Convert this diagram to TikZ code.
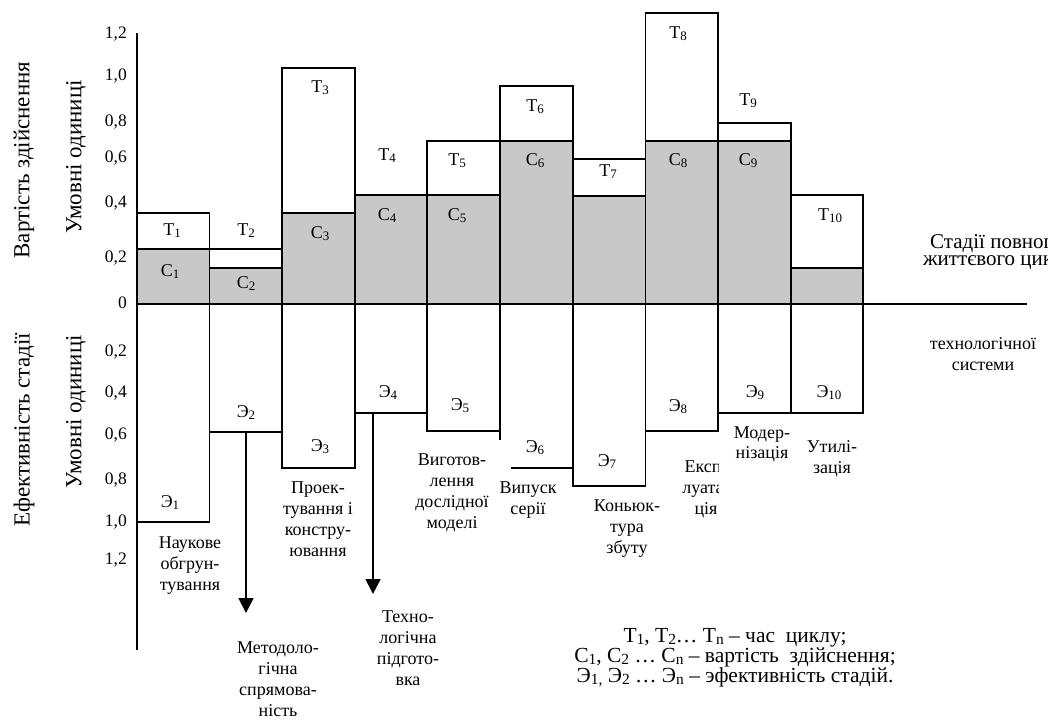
\documentclass[tikz,border=0pt]{standalone}
\usepackage{fontspec}
\usepackage{graphicx}
\setmainfont{Liberation Serif}
\usetikzlibrary{arrows.meta}
\definecolor{costgray}{RGB}{200,200,200}
% small, slightly lowered index digits
\newcommand{\idx}[1]{\raisebox{-0.25ex}{\scalebox{0.72}{#1}}}
\begin{document}
\begin{tikzpicture}[x=1pt,y=-1pt,
  frame/.style={draw=black,line width=1.8pt},
  costbox/.style={frame,fill=costgray},
  lbl/.style={inner sep=0pt,anchor=base,font=\fontsize{18}{21}\selectfont},
  tick/.style={inner sep=0pt,anchor=base east,font=\fontsize{17.5}{20}\selectfont},
  ytitle/.style={inner sep=0pt,rotate=90,font=\fontsize{23}{27}\selectfont},
  stage/.style={inner sep=0pt,anchor=base,align=center,font=\fontsize{18}{21}\selectfont},
  down/.style={line width=1.8pt,-{Triangle[width=15pt,length=15pt]}}]
\useasboundingbox (0,0) rectangle (1048,724);

% upper half: time (white) and cost (grey) of each stage
\foreach \l/\r/\t/\c in {137/209.5/213/249, 209.5/282/249/268, 282/355/68/213,
  355/427/195/195, 427/500/141/195, 500/573/86/141, 573/645.5/159/196,
  645.5/718/13/141, 718/791/123/141, 791/863/195/268}{
  \draw[frame,fill=white] (\l,\t) rectangle (\r,304);
  \draw[costbox] (\l,\c) rectangle (\r,304);
}

% lower half: efficiency of each stage
\foreach \l/\r/\b in {137/209.5/522, 209.5/282/432, 282/355/468, 355/427/413,
  427/500/431, 573/645.5/486, 645.5/718/431, 718/791/413, 791/863/413}{
  \draw[frame] (\l,304) rectangle (\r,\b);
}
\draw[frame] (500,304) -- (500,440);
\draw[frame] (511,468) -- (573,468);

% axes
\draw[frame] (137,33) -- (137,650);
\draw[frame] (137,304) -- (1027,304);

% tick labels
\foreach \v/\y [count=\i] in {{1,2}/38, {1,0}/80, {0,8}/126, {0,6}/162, {0,4}/207, {0,2}/262, 0/308,
  {0,2}/356, {0,4}/397, {0,6}/439, {0,8}/484, {1,0}/526, {1,2}/564}{
  \node[tick] (tk\i) at (127,\y) {\v};
}

% axis titles
\node[ytitle] (costtitle) at (24,160) {Вартість здійснення};
\node[ytitle] (unitsup) at (76,157) {Умовні одиниці};
\node[ytitle] (efftitle) at (24,430) {Ефективність стадії};
\node[ytitle] (unitsdown) at (76,412) {Умовні одиниці};

% time labels
\node[lbl] (t1) at (172,235) {T\idx{1}};
\node[lbl] (t2) at (246,235) {T\idx{2}};
\node[lbl] (t3) at (320,92) {T\idx{3}};
\node[lbl] (t4) at (387,160) {T\idx{4}};
\node[lbl] (t5) at (457,165) {T\idx{5}};
\node[lbl] (t6) at (535,111) {T\idx{6}};
\node[lbl] (t7) at (608,176) {T\idx{7}};
\node[lbl] (t8) at (678,38) {T\idx{8}};
\node[lbl] (t9) at (748,105) {T\idx{9}};
\node[lbl] (t10) at (830,220) {T\idx{10}};

% cost labels
\node[lbl] (c1) at (170,276) {C\idx{1}};
\node[lbl] (c2) at (246,288) {C\idx{2}};
\node[lbl] (c3) at (320,238) {C\idx{3}};
\node[lbl] (c4) at (387,220) {C\idx{4}};
\node[lbl] (c5) at (457,220) {C\idx{5}};
\node[lbl] (c6) at (535,165) {C\idx{6}};
\node[lbl] (c8) at (678,165) {C\idx{8}};
\node[lbl] (c9) at (748,165) {C\idx{9}};

% efficiency labels
\node[lbl] (e1) at (170,507) {Э\idx{1}};
\node[lbl] (e2) at (246,417) {Э\idx{2}};
\node[lbl] (e3) at (320,451) {Э\idx{3}};
\node[lbl] (e4) at (388,397) {Э\idx{4}};
\node[lbl] (e5) at (460,410) {Э\idx{5}};
\node[lbl] (e6) at (535,452) {Э\idx{6}};
\node[lbl] (e7) at (607,466) {Э\idx{7}};
\node[lbl] (e8) at (678,411) {Э\idx{8}};
\node[lbl] (e9) at (755,397) {Э\idx{9}};
\node[lbl] (e10) at (829,397) {Э\idx{10}};

% stage names (base anchor = baseline of the last line)
\node[stage] (s1) at (190,590) {Наукове\\обгрун-\\тування};
\node[stage] (s3) at (318,556) {Проек-\\тування і\\констру-\\ювання};
\node[stage] (s5) at (452,528) {Виготов-\\лення\\дослідної\\моделі};
\node[stage] (s6) at (528,514) {Випуск\\серії};
\node[stage] (s7) at (627,553) {Коньюк-\\тура\\збуту};
\begin{scope}
  \clip (600,414) rectangle (718,540);
  \node[stage] (s8) at (706,514) {Експ-\\луата-\\ція};
\end{scope}
\node[stage,font=\fontsize{18}{20}\selectfont] (s9) at (762,458) {Модер-\\нізація};
\node[stage] (s10) at (832,473) {Утилі-\\зація};

% branches
\node[stage] (metod) at (278,716) {Методоло-\\гічна\\спрямова-\\ність};
\node[stage] (tech) at (408,685) {Техно-\\логічна\\підгото-\\вка};
\coordinate (e2foot) at (246,432);
\coordinate (metodtip) at (246,613);
\coordinate (e4foot) at (373,413);
\coordinate (techtip) at (373,594);
\draw[down] (e2foot) -- (metodtip);
\draw[down] (e4foot) -- (techtip);

% axis caption, running off the right edge
\node[lbl,anchor=base west,font=\fontsize{21}{23}\selectfont] (cap1) at (930,248) {Стадії повного};
\node[lbl,anchor=base west,font=\fontsize{21}{23}\selectfont] (cap2) at (923,265) {життєвого циклу};
\node[stage] (cap3) at (983,370) {технологічної\\системи};

% legend
\node[stage,font=\fontsize{21.5}{20}\selectfont] (legend) at (735,682)
  {T\idx{1}, T\idx{2}… T\idx{n} – час\ \ циклу;\\
   C\idx{1}, C\idx{2} … C\idx{n} – вартість\ \ здійснення;\\
   Э\idx{1,} Э\idx{2} … Э\idx{n} – эфективність стадій.};
\end{tikzpicture}
\end{document}
